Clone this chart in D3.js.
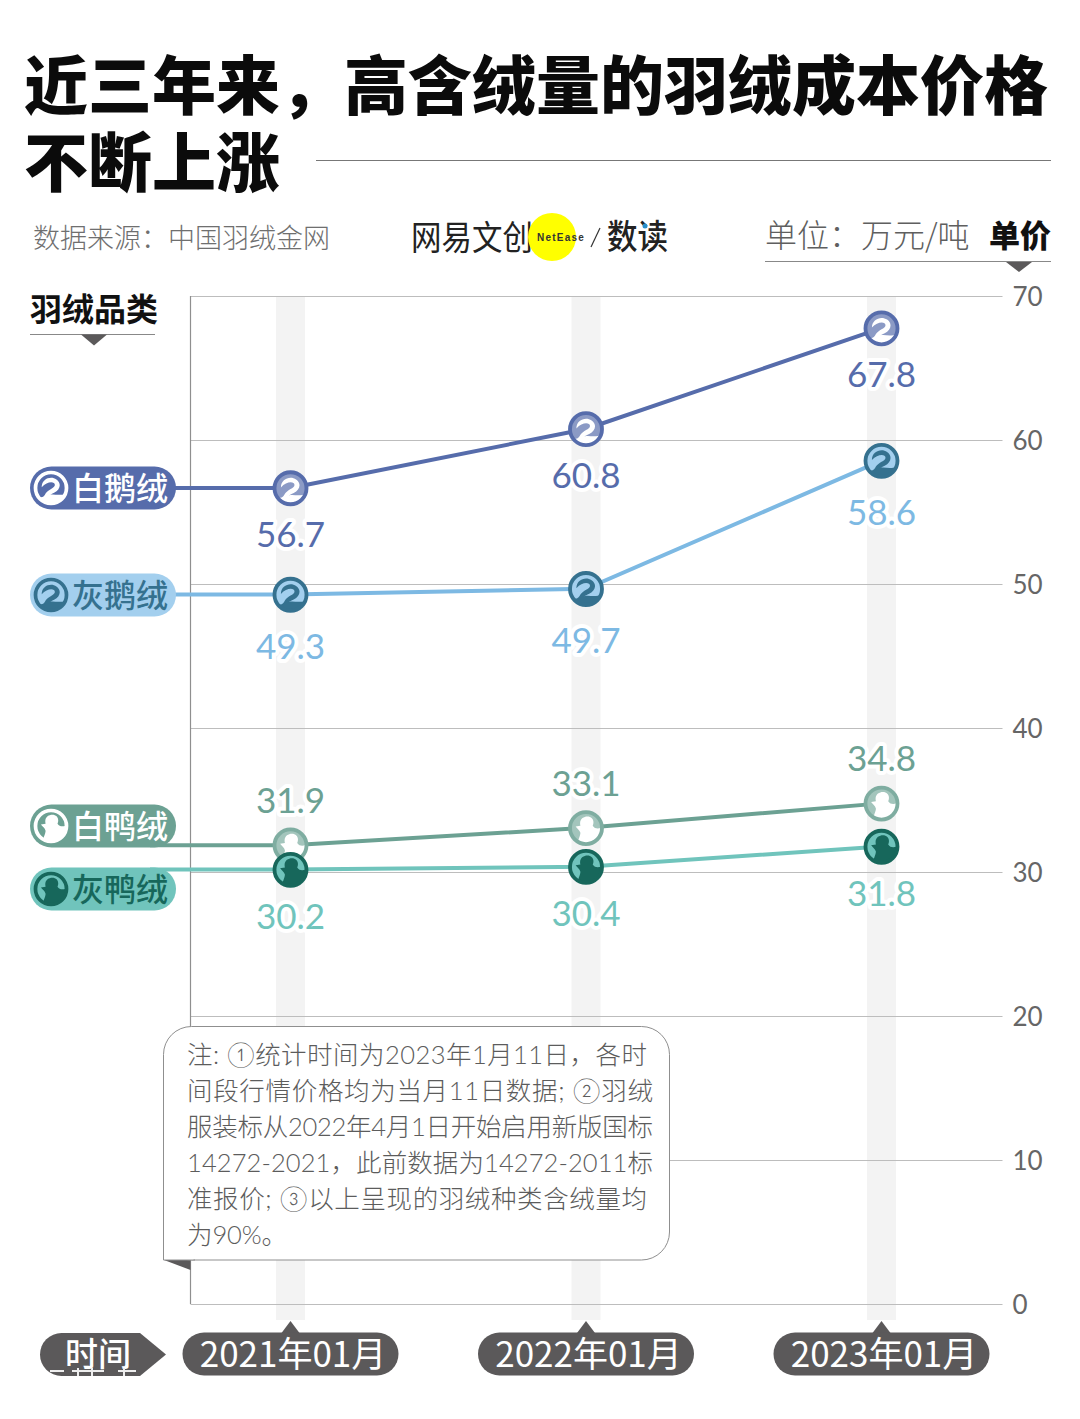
<!DOCTYPE html>
<html>
<head>
<meta charset="utf-8">
<script src="https://cdn.jsdelivr.net/npm/d3@7"></script>
<style>
  html, body { margin: 0; padding: 0; background: #fff; }
  svg { display: block; }
  text { font-family: "Noto Sans CJK SC", "Noto Sans", sans-serif; }
</style>
</head>
<body>
<script>
var width = 1080, height = 1419;

var months = ["2021年01月", "2022年01月", "2023年01月"];
var yTicks = [0, 10, 20, 30, 40, 50, 60, 70];
var names = ["白鹅绒", "灰鹅绒", "白鸭绒", "灰鸭绒"];
var whiteGoose = [56.7, 60.8, 67.8];
var greyGoose = [49.3, 49.7, 58.6];
var whiteDuck = [31.9, 33.1, 34.8];
var greyDuck = [30.2, 30.4, 31.8];
var noteLines = [
  "注: ①统计时间为2023年1月11日，各时",
  "间段行情价格均为当月11日数据; ②羽绒",
  "服装标从2022年4月1日开始启用新版国标",
  "14272-2021，此前数据为14272-2011标",
  "准报价; ③以上呈现的羽绒种类含绒量均",
  "为90%。"
];
var noteWidths = [460, 466, 466, 466, 460, 100];

var series = [
  {name: names[0], values: whiteGoose, kind: "goose", line: "#566cab", pill: "#566cab", pillText: "#fff", ring: "#566cab", fill: "#8b9ac5", glyph: "#fff", label: "#566cab", labelDy: 46, pillY: 488},
  {name: names[1], values: greyGoose, kind: "goose", line: "#7db9e3", pill: "#a3cfee", pillText: "#35718f", ring: "#35718f", fill: "#a3cfee", glyph: "#35718f", label: "#7db9e3", labelDy: 51, pillY: 595},
  {name: names[2], values: whiteDuck, kind: "duck", line: "#6ca193", pill: "#6ca193", pillText: "#fff", ring: "#7fada1", fill: "#a3c5bc", glyph: "#fff", label: "#6ca193", labelDy: -45, pillY: 826},
  {name: names[3], values: greyDuck, kind: "duck", line: "#70c4bc", pill: "#70c4bc", pillText: "#17675b", ring: "#17675b", fill: "#70c4bc", glyph: "#17675b", label: "#70c4bc", labelDy: 46, pillY: 889}
];

var svg = d3.select("body").append("svg")
  .attr("width", width)
  .attr("height", height);

var x = d3.scalePoint().domain(months).range([290.5, 881.5]);
var y = d3.scaleLinear().domain([0, 70]).range([1304, 296]);

var grey = "#5b595a";

// title
svg.append("text").attr("x", 24).attr("y", 109)
  .style("font-size", "64px").style("font-weight", 900).attr("fill", "#0b0b0b")
  .text("近三年来，高含绒量的羽绒成本价格");
svg.append("text").attr("x", 24).attr("y", 186)
  .style("font-size", "64px").style("font-weight", 900).attr("fill", "#0b0b0b")
  .text("不断上涨");
svg.append("line").attr("x1", 316).attr("x2", 1051).attr("y1", 160.5).attr("y2", 160.5)
  .attr("stroke", "#777").attr("stroke-width", 1);

// source, logo, unit
svg.append("text").attr("x", 33).attr("y", 248)
  .style("font-size", "27px").style("font-weight", 300).attr("fill", "#6f6f6f")
  .text("数据来源：中国羽绒金网");

svg.append("text").attr("transform", "translate(411,250) scale(1,1.12)")
  .style("font-size", "30.5px").style("font-weight", 400).attr("fill", "#222")
  .text("网易文创");
svg.append("circle").attr("cx", 552).attr("cy", 237).attr("r", 24).attr("fill", "#ffff00");
svg.append("text").attr("x", 561).attr("y", 241).attr("text-anchor", "middle")
  .style("font-family", "'Liberation Sans'").style("font-size", "10px").style("font-weight", 700)
  .style("letter-spacing", "1.2px").attr("fill", "#333").text("NetEase");
svg.append("line").attr("x1", 591).attr("x2", 600).attr("y1", 247).attr("y2", 228)
  .attr("stroke", "#333").attr("stroke-width", 1.2);
svg.append("text").attr("transform", "translate(607,249) scale(1,1.1)")
  .style("font-size", "30.5px").style("font-weight", 500).attr("fill", "#222")
  .text("数读");
svg.append("circle").attr("cx", 645).attr("cy", 226).attr("r", 2.5).attr("fill", "#2a8fc9");

svg.append("text").attr("x", 765).attr("y", 247)
  .style("font-size", "32px").style("font-weight", 300).attr("fill", "#5f5f5f")
  .text("单位：万元/吨");
svg.append("text").attr("x", 1051).attr("y", 247).attr("text-anchor", "end")
  .style("font-size", "31px").style("font-weight", 900).attr("fill", "#111")
  .text("单价");
svg.append("line").attr("x1", 765).attr("x2", 1051).attr("y1", 261.5).attr("y2", 261.5)
  .attr("stroke", "#888").attr("stroke-width", 1);
svg.append("path").attr("d", "M1006,262h26l-13,10z").attr("fill", grey);

svg.append("text").attr("x", 30).attr("y", 321)
  .style("font-size", "32px").style("font-weight", 700).attr("fill", "#111")
  .text("羽绒品类");
svg.append("line").attr("x1", 30).attr("x2", 155).attr("y1", 334.5).attr("y2", 334.5)
  .attr("stroke", "#888").attr("stroke-width", 1);
svg.append("path").attr("d", "M81,334.5h26l-13,11z").attr("fill", grey);

// date strips behind the grid
svg.selectAll(".strip").data(months).enter().append("rect")
  .attr("class", "strip")
  .attr("x", function(d) { return x(d) - 14.5; })
  .attr("y", y(70))
  .attr("width", 29)
  .attr("height", 1320 - y(70))
  .attr("fill", "#f3f3f3");

// y axis
var axis = d3.axisRight(y).tickValues(yTicks).tickSize(812).tickPadding(10).tickFormat(d3.format("d"));
var gy = svg.append("g").attr("transform", "translate(190.5,0)").call(axis);
gy.select(".domain").remove();
gy.selectAll(".tick line").attr("stroke", "#bdbdbd").attr("stroke-width", 1);
gy.selectAll(".tick text")
  .attr("fill", "#666").attr("dy", "0.36em").style("font-family", "Lato, sans-serif")
  .style("font-size", "26px").style("font-weight", 400);
svg.append("line").attr("x1", 190.5).attr("x2", 190.5).attr("y1", y(70)).attr("y2", y(0))
  .attr("stroke", "#8f8f8f").attr("stroke-width", 1.2);

// series lines run out of the legend pills
var line = d3.line()
  .x(function(d, i) { return x(months[i]); })
  .y(function(d) { return y(d) + 0.5; });

svg.selectAll(".lead").data(series).enter().append("line")
  .attr("class", "lead")
  .attr("x1", 150)
  .attr("x2", x(months[0]))
  .attr("y1", function(d) { return y(d.values[0]) + 0.5; })
  .attr("y2", function(d) { return y(d.values[0]) + 0.5; })
  .attr("stroke", function(d) { return d.line; })
  .attr("stroke-width", 4);

svg.selectAll(".series").data(series).enter().append("path")
  .attr("class", "series")
  .attr("d", function(d) { return line(d.values); })
  .attr("fill", "none")
  .attr("stroke", function(d) { return d.line; })
  .attr("stroke-width", 4);

// little goose and duck glyphs, clipped to a unit circle
var defs = svg.append("defs");
defs.append("clipPath").attr("id", "unit").append("circle").attr("r", 1);

function drawIcon(g, s, r) {
  g.append("circle").attr("r", r).attr("fill", s.fill);
  var inner = g.append("g").attr("transform", "scale(" + r + ")").attr("clip-path", "url(#unit)");
  if (s.kind == "goose") {
    inner.append("path")
      .attr("d", "M-0.6,-0.05C-0.6,-0.6 0,-0.8 0.35,-0.55C0.7,-0.3 0.6,0.1 0.2,0.3C0.05,0.38 -0.05,0.42 -0.1,0.45C0.2,0.35 0.5,0.55 1,0.35V1.1H-1V0.45C-0.6,0.75 -0.45,0.55 -0.35,0.35C-0.2,0.1 0.25,0 0.25,-0.2C0.25,-0.45 -0.25,-0.45 -0.6,-0.05Z")
      .attr("fill", s.glyph);
  } else {
    inner.append("path")
      .attr("d", "M-0.65,-0.1L-0.35,-0.15C-0.45,-0.55 -0.15,-0.72 0.08,-0.72C0.4,-0.72 0.55,-0.45 0.42,-0.15C0.55,0.05 0.75,0.05 0.95,-0.02C0.9,0.35 0.8,0.7 0.5,1.1H-0.55C-0.5,0.7 -0.35,0.5 -0.35,0.3C-0.4,0.1 -0.55,0.05 -0.65,-0.1Z")
      .attr("fill", s.glyph);
  }
  g.append("circle").attr("r", r).attr("fill", "none").attr("stroke", s.ring).attr("stroke-width", r * 0.24);
}

// legend pills
var pill = svg.selectAll(".pill").data(series).enter().append("g")
  .attr("class", "pill")
  .attr("transform", function(d) { return "translate(30," + d.pillY + ")"; });
pill.append("rect")
  .attr("x", 0).attr("y", -21.5).attr("width", 146).attr("height", 43).attr("rx", 21.5)
  .attr("fill", function(d) { return d.pill; });
pill.append("g").attr("transform", "translate(21,0)").each(function(d) {
  var s = Object.assign({}, d, {fill: d.pill, ring: d.pillText, glyph: d.pillText});
  drawIcon(d3.select(this), s, 15.5);
});
pill.append("text")
  .attr("x", 42).attr("y", 12)
  .style("font-size", "32px").style("font-weight", 500)
  .attr("fill", function(d) { return d.pillText; })
  .text(function(d) { return d.name; });

// points and value labels
series.forEach(function(s) {
  var pt = svg.append("g").selectAll("g").data(s.values).enter().append("g");
  pt.append("text")
    .attr("x", function(d, i) { return x(months[i]); })
    .attr("y", function(d) { return y(d) + s.labelDy + 13.5; })
    .attr("text-anchor", "middle")
    .style("font-family", "Lato, sans-serif")
    .style("font-size", "35px")
    .attr("fill", s.label)
    .attr("stroke", "#fff")
    .attr("stroke-width", 8)
    .attr("stroke-linejoin", "round")
    .attr("paint-order", "stroke")
    .text(function(d) { return d3.format(".1f")(d); });
  pt.append("g")
    .attr("transform", function(d, i) { return "translate(" + x(months[i]) + "," + (y(d) + 0.7) + ")"; })
    .each(function() { drawIcon(d3.select(this), s, 16); });
});

// note box
svg.append("path").attr("d", "M164,1260L190.5,1260V1270Z").attr("fill", grey);
svg.append("rect")
  .attr("x", 163.5).attr("y", 1026.5).attr("width", 506).attr("height", 233.5)
  .attr("rx", 28).attr("fill", "#fff").attr("stroke", "#8f8f8f").attr("stroke-width", 1);
svg.append("rect")
  .attr("x", 163.5).attr("y", 1230).attr("width", 30).attr("height", 30)
  .attr("fill", "#fff");
svg.append("path").attr("d", "M163.5,1225V1260H195").attr("fill", "none").attr("stroke", "#8f8f8f");
svg.selectAll(".note").data(noteLines).enter().append("text")
  .attr("class", "note")
  .attr("x", 187)
  .attr("y", function(d, i) { return 1064 + i * 36; })
  .attr("textLength", function(d, i) { return noteWidths[i]; })
  .attr("lengthAdjust", "spacing")
  .style("font-family", "Lato, 'Noto Sans CJK SC', sans-serif")
  .style("font-size", "25.5px").style("font-weight", 300).attr("fill", "#5c5c5c")
  .text(function(d) { return d; });

// time labels
function timePill(cx, label) {
  var g = svg.append("g").attr("transform", "translate(" + cx + ",1354)");
  g.append("path").attr("d", "M-9,-21L0,-33L9,-21Z").attr("fill", grey);
  g.append("rect").attr("x", -108).attr("y", -21.5).attr("width", 216).attr("height", 43).attr("rx", 21.5).attr("fill", grey);
  g.append("text").attr("x", 2.5).attr("y", 13).attr("text-anchor", "middle")
    .style("font-size", "35px").style("font-weight", 400).attr("fill", "#fff").text(label);
}
months.forEach(function(m) { timePill(x(m), m); });

defs.append("clipPath").attr("id", "timeClip").append("path")
  .attr("d", "M21.5,0H100L126,21.5L100,43H21.5A21.5,21.5,0,0,1,21.5,0Z");
var tg = svg.append("g").attr("transform", "translate(40,1333)").attr("clip-path", "url(#timeClip)");
tg.append("rect").attr("width", 130).attr("height", 43).attr("fill", grey);
tg.append("text").attr("x", 58).attr("y", 33).attr("text-anchor", "middle")
  .style("font-size", "33px").style("font-weight", 500).attr("fill", "#fff").text("时间");
// unreadable white fragments cut off along the bottom of the pill in the original
tg.append("path")
  .attr("d", "M10,38h14M32,38h32M38,35v9M52,35v9M78,38h18M84,35v9")
  .attr("fill", "none").attr("stroke", "#eee").attr("stroke-width", 2);
</script>
</body>
</html>
